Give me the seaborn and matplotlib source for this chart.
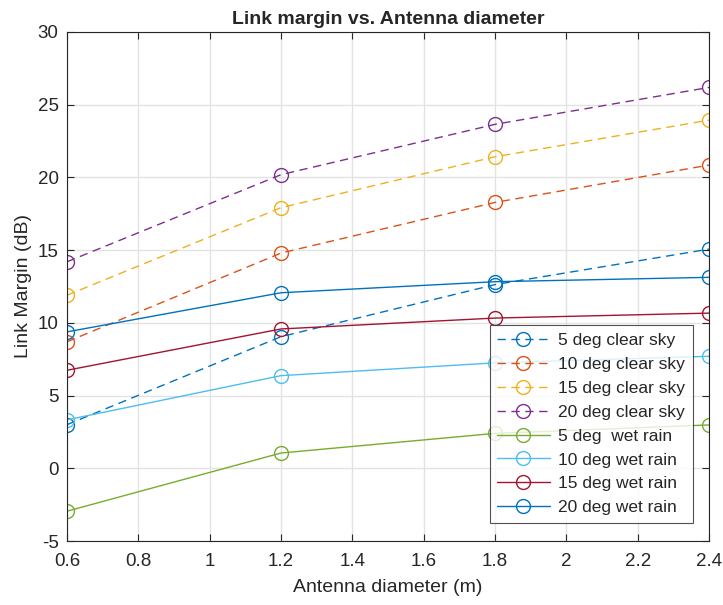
import matplotlib
matplotlib.use("Agg")
import matplotlib.pyplot as plt
import seaborn as sns
import pandas as pd

sns.set_style("white")
plt.rcParams['font.family'] = ['Liberation Sans', 'DejaVu Sans']
plt.rcParams['axes.unicode_minus'] = False

diameters = [0.6, 1.2, 1.8, 2.4]
clear_5 = [3.0, 9.05, 12.63, 15.07]
clear_10 = [8.7, 14.8, 18.28, 20.85]
clear_15 = [11.9, 17.92, 21.42, 23.94]
clear_20 = [14.2, 20.19, 23.65, 26.19]
rain_5 = [-2.95, 1.05, 2.4, 2.98]
rain_10 = [3.33, 6.37, 7.25, 7.7]
rain_15 = [6.74, 9.58, 10.33, 10.67]
rain_20 = [9.38, 12.07, 12.83, 13.13]

labels = ["5 deg clear sky", "10 deg clear sky", "15 deg clear sky", "20 deg clear sky",
          "5 deg  wet rain", "10 deg wet rain", "15 deg wet rain", "20 deg wet rain"]
series = [clear_5, clear_10, clear_15, clear_20, rain_5, rain_10, rain_15, rain_20]
colors = ["#0072BD", "#D95319", "#EDB120", "#7E2F8E", "#77AC30", "#4DBEEE", "#A2142F", "#0072BD"]
styles = [(0, (6, 4))] * 4 + ["-"] * 4

fig = plt.figure(figsize=(7.23, 6.05), dpi=100)
ax = fig.add_axes([67 / 723, 1 - 541 / 605, (709 - 67) / 723, (541 - 32) / 605])

for lab, vals, c, ls in zip(labels, series, colors, styles):
    df = pd.DataFrame({"x": diameters, "y": vals})
    sns.lineplot(data=df, x="x", y="y", ax=ax, color=c, linestyle=ls, linewidth=1.0,
                 marker="o", markersize=10, markerfacecolor="none", markeredgecolor=c,
                 markeredgewidth=1.0, label=lab)

ax.set_xlim(0.6, 2.4)
ax.set_ylim(-5, 30)
ax.set_xticks([0.6, 0.8, 1.0, 1.2, 1.4, 1.6, 1.8, 2.0, 2.2, 2.4])
ax.set_xticklabels(["0.6", "0.8", "1", "1.2", "1.4", "1.6", "1.8", "2", "2.2", "2.4"])
ax.set_yticks([-5, 0, 5, 10, 15, 20, 25, 30])
ax.grid(True, color="#e3e3e3", linewidth=1.0)
ax.set_axisbelow(True)
ax.tick_params(direction="in", length=5, width=0.8, colors="#262626", labelsize=13.5,
               top=True, right=True, bottom=True, left=True)
ax.tick_params(axis="x", pad=9)
ax.tick_params(axis="y", pad=6)
for s in ax.spines.values():
    s.set_color("#262626")
    s.set_linewidth(0.8)

ax.set_xlabel("Antenna diameter (m)", fontsize=14, color="#262626", labelpad=6)
ax.set_ylabel("Link Margin (dB)", fontsize=14, color="#262626")
ax.set_title("Link margin vs. Antenna diameter", fontsize=14, fontweight="bold", pad=6)

leg = ax.legend(loc="lower right", bbox_to_anchor=(693 / 723, 1 - 523 / 605),
                bbox_transform=fig.transFigure, fontsize=12.5, frameon=True,
                fancybox=False, handlelength=3.0, borderpad=0.45, labelspacing=0.5,
                handletextpad=0.5, borderaxespad=0)
leg.get_frame().set_edgecolor("#262626")
leg.get_frame().set_linewidth(0.8)

fig.savefig("out.png", dpi=100)
